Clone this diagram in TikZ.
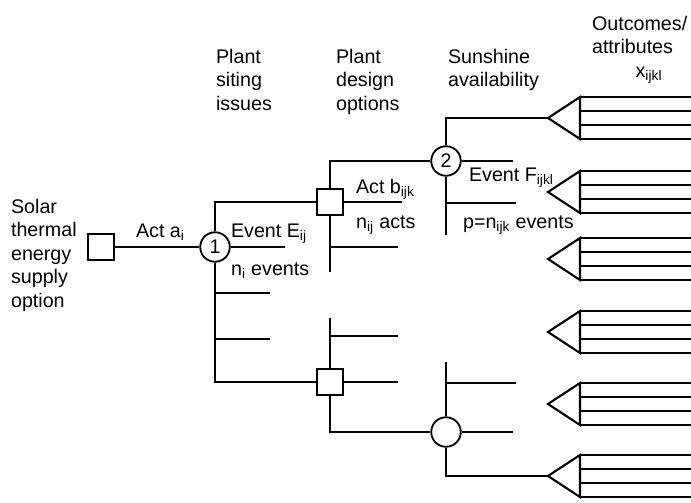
\documentclass[tikz,border=0pt]{standalone}
\usepackage{fontspec}
\setmainfont{Liberation Sans}
\usepackage{tikz}
\newcommand{\lowidx}[1]{\textsubscript{#1}}

\begin{document}
\begin{tikzpicture}[
  x=0.025cm, y=-0.025cm, line width=1.5pt,
  every node/.style={font=\fontsize{14}{16.7}\selectfont},
  actbox/.style={draw, rectangle, fill=white, minimum size=18.5pt, inner sep=0pt, line width=1.3pt},
  chance/.style={draw, circle, fill=white, minimum size=21pt, inner sep=0pt, line width=1.3pt},
  lbl/.style={anchor=base west, inner sep=0pt},
  head/.style={anchor=north west, align=left, inner sep=0pt},
  ]
  \useasboundingbox (0,0) rectangle (691,502);

  % decision and chance nodes
  \node[head, anchor=west] (option) at (10,255) {Solar\\thermal\\energy\\supply\\option};
  \node[actbox] (sq0) at (101,247) {};
  \node[chance] (c1) at (215,247) {1};
  \node[actbox] (sq2) at (330,202) {};
  \node[actbox] (sq3) at (330,382) {};
  \node[chance] (c2) at (446,161) {2};
  \node[chance] (c3) at (446,432) {};

  % outcome fans
  \foreach \n/\y in {1/118, 2/192, 3/259, 4/332, 5/404, 6/476} {
    \coordinate (f\n) at (548,\y);
    \draw (f\n) -- ++(32,-21) -- ++(0,42) -- cycle;
    \foreach \d in {-21,-7,7,21}
      \draw ([shift={(32,\d)}]f\n) -- ++(111,0);
  }

  % branch ends
  \coordinate (e1a) at (285,247);
  \coordinate (e1b) at (270,293);
  \coordinate (e1c) at (270,339);
  \coordinate (s2) at (330,272);
  \coordinate (e2a) at (402,202);
  \coordinate (e2b) at (398,247);
  \coordinate (s3) at (446,235);
  \coordinate (e3a) at (513,161);
  \coordinate (e3b) at (516,203);
  \coordinate (t4) at (330,318);
  \coordinate (e4a) at (398,336);
  \coordinate (e4b) at (398,382);
  \coordinate (t5) at (446,362);
  \coordinate (e5a) at (516,383);
  \coordinate (e5b) at (513,432);

  \draw (sq0) -- (c1);
  \draw (sq2) -| (c1) |- (sq3);
  \draw (c1) -- (e1a);
  \draw (c1 |- e1b) -- (e1b);
  \draw (c1 |- e1c) -- (e1c);

  \draw (sq2) |- (c2);
  \draw (sq2) -- (s2);
  \draw (sq2) -- (e2a);
  \draw (sq2 |- e2b) -- (e2b);

  \draw (c2) |- (f1);
  \draw (c2) -- (s3);
  \draw (c2) -- (e3a);
  \draw (c2 |- e3b) -- (e3b);

  \draw (sq3) |- (c3);
  \draw (sq3) -- (t4);
  \draw (sq3 |- e4a) -- (e4a);
  \draw (sq3) -- (e4b);

  \draw (c3) |- (f6);
  \draw (c3) -- (t5);
  \draw (c3 |- e5a) -- (e5a);
  \draw (c3) -- (e5b);

  % labels
  \node[lbl] (acta) at (135,237) {Act a\lowidx{i}};
  \node[lbl] (eventE) at (230,237) {Event E\lowidx{ij}};
  \node[lbl] (nevents) at (230,275) {n\lowidx{i} events};
  \node[lbl] (actb) at (355,193) {Act b\lowidx{ijk}};
  \node[lbl] (nacts) at (355,228) {n\lowidx{ij} acts};
  \node[lbl] (eventF) at (468,181) {Event F\lowidx{ijkl}};
  \node[lbl] (pevents) at (462,228) {p=n\lowidx{ijk} events};

  \node[head] (siting) at (215,48) {Plant\\siting\\issues};
  \node[head] (design) at (335,48) {Plant\\design\\options};
  \node[head] (sunshine) at (447,48) {Sunshine\\availability};
  \node[head] (outcomes) at (591,15) {Outcomes/\\attributes\\\hspace*{31pt}x\lowidx{ijkl}};
\end{tikzpicture}
\end{document}
